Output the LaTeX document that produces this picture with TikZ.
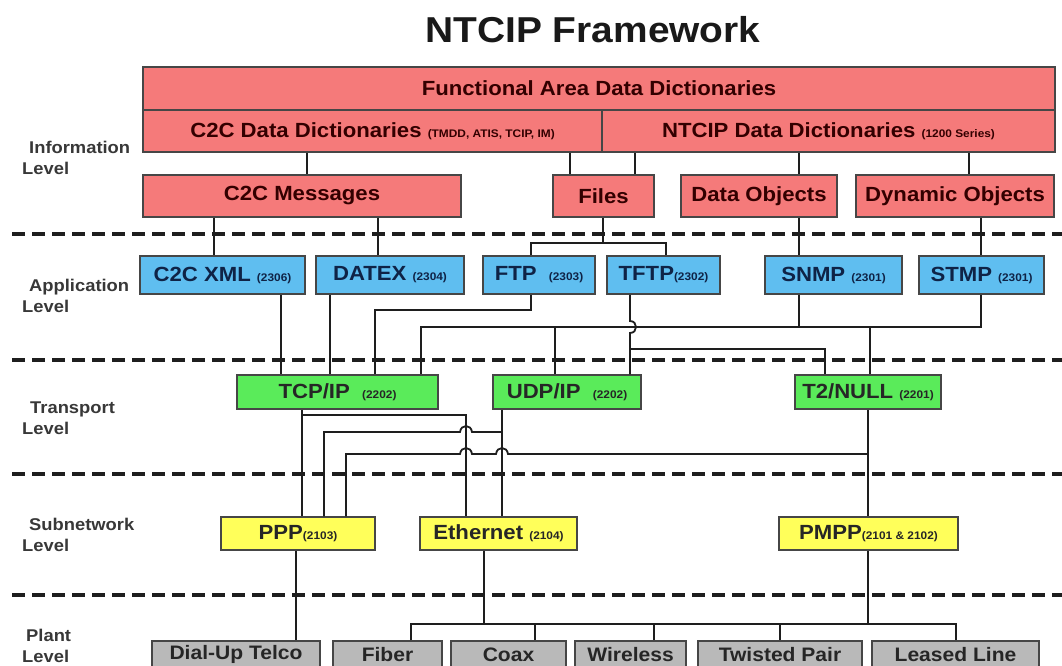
\documentclass[tikz,border=0pt]{standalone}
\usepackage{fontspec}
\setmainfont{Liberation Sans}[FakeStretch=1.08]
\definecolor{infofill}{RGB}{245,122,122}
\definecolor{appfill}{RGB}{95,190,240}
\definecolor{tranfill}{RGB}{90,235,90}
\definecolor{subfill}{RGB}{255,255,90}
\definecolor{plantfill}{RGB}{185,185,185}
\definecolor{bordercol}{RGB}{70,70,70}
\definecolor{linecol}{RGB}{30,30,30}
\definecolor{apptext}{RGB}{15,35,70}
\newcommand\smallnum[1]{{\fontsize{11}{12}\selectfont #1}}
\newcommand\mkbox[7]{\node[#2, minimum width={#4-#3}, minimum height={#6-#5}] (#1) at ({(#3+#4)/2},{(#5+#6)/2}) {#7};}
\begin{document}
\begin{tikzpicture}[x=1pt,y=-1pt,
  basebox/.style={draw=bordercol, line width=1.5pt, inner sep=0pt, text=black!85,
    font=\fontsize{20.5}{24}\selectfont\bfseries},
  infobox/.style={basebox, fill=infofill, text=black!80!red},
  appbox/.style={basebox, fill=appfill, text=apptext},
  tranbox/.style={basebox, fill=tranfill},
  subbox/.style={basebox, fill=subfill},
  plantbox/.style={basebox, fill=plantfill, font=\fontsize{19.5}{23}\selectfont\bfseries},
  conn/.style={draw=linecol, line width=1.8pt},
  levelsep/.style={draw=linecol, line width=3.8pt, dash pattern=on 13pt off 7pt},
  levellabel/.style={align=left, anchor=west, inner sep=0pt, text=black!78,
    font=\fontsize{17}{21}\selectfont\bfseries}]
\clip (0,0) rectangle (1062,665);
\fill[white] (0,0) rectangle (1062,665);

% title
\node[font=\fontsize{36}{40}\selectfont\bfseries, text=black!90] (title) at (593,30) {NTCIP Framework};

% level separators
\foreach \yy in {234,360,474,595} {\draw[levelsep] (12,\yy) -- (1068,\yy);}

% level labels
\node[levellabel] (lInfo) at (22,158) {\hspace*{7pt}Information\\Level};
\node[levellabel] (lApp) at (22,296) {\hspace*{7pt}Application\\Level};
\node[levellabel] (lTran) at (22,418) {\hspace*{8pt}Transport\\Level};
\node[levellabel] (lSub) at (22,535) {\hspace*{7pt}Subnetwork\\Level};
\node[levellabel] (lPlant) at (22,646) {\hspace*{4pt}Plant\\Level};

% information level
\mkbox{fadd}{infobox}{143}{1055}{67}{110}{Functional Area Data Dictionaries}
\mkbox{c2cdd}{infobox}{143}{602}{110}{152}{C2C Data Dictionaries \smallnum{(TMDD, ATIS, TCIP, IM)}}
\mkbox{ntcipdd}{infobox}{602}{1055}{110}{152}{NTCIP Data Dictionaries \smallnum{(1200 Series)}}
\mkbox{c2cmsg}{infobox}{143}{461}{175}{217}{C2C Messages}
\mkbox{files}{infobox}{553}{654}{175}{217}{Files}
\mkbox{dataobj}{infobox}{681}{837}{175}{217}{Data Objects}
\mkbox{dynobj}{infobox}{856}{1054}{175}{217}{Dynamic Objects}

% application level
\mkbox{c2cxml}{appbox}{140}{305}{256}{294}{C2C XML \smallnum{(2306)}}
\mkbox{datex}{appbox}{316}{464}{256}{294}{DATEX \smallnum{(2304)}}
\mkbox{ftp}{appbox}{483}{595}{256}{294}{FTP \ \smallnum{(2303)}}
\mkbox{tftp}{appbox}{607}{720}{256}{294}{TFTP\smallnum{(2302)}}
\mkbox{snmp}{appbox}{765}{902}{256}{294}{SNMP \smallnum{(2301)}}
\mkbox{stmp}{appbox}{919}{1044}{256}{294}{STMP \smallnum{(2301)}}

% transport level
\mkbox{tcp}{tranbox}{237}{438}{375}{409}{TCP/IP \ \smallnum{(2202)}}
\mkbox{udp}{tranbox}{493}{641}{375}{409}{UDP/IP \ \smallnum{(2202)}}
\mkbox{t2}{tranbox}{795}{941}{375}{409}{T2/NULL \smallnum{(2201)}}

% subnetwork level
\mkbox{ppp}{subbox}{221}{375}{517}{550}{PPP\smallnum{(2103)}}
\mkbox{eth}{subbox}{420}{577}{517}{550}{Ethernet \smallnum{(2104)}}
\mkbox{pmpp}{subbox}{779}{958}{517}{550}{PMPP\smallnum{(2101 \& 2102)}}

% plant level (boxes run past the lower edge)
\mkbox{dialup}{plantbox}{152}{320}{641}{668}{Dial-Up Telco}
\mkbox{fiber}{plantbox}{333}{442}{641}{668}{Fiber}
\mkbox{coax}{plantbox}{451}{566}{641}{668}{Coax}
\mkbox{wireless}{plantbox}{575}{686}{641}{668}{Wireless}
\mkbox{twisted}{plantbox}{698}{862}{641}{668}{Twisted Pair}
\mkbox{leased}{plantbox}{872}{1039}{641}{668}{Leased Line}

% information connectors
\draw[conn] (c2cdd.south -| 307,0) -- (c2cmsg.north -| 307,0);
\draw[conn] (c2cdd.south -| 570,0) -- (files.north -| 570,0);
\draw[conn] (ntcipdd.south -| 635,0) -- (files.north -| 635,0);
\draw[conn] (ntcipdd.south -| 799,0) -- (dataobj.north -| 799,0);
\draw[conn] (ntcipdd.south -| 969,0) -- (dynobj.north -| 969,0);

% information -> application
\draw[conn] (c2cmsg.south -| 214,0) -- (c2cxml.north -| 214,0);
\draw[conn] (c2cmsg.south -| 378,0) -- (datex.north -| 378,0);
\coordinate (fj) at (603,243);
\draw[conn] (files.south -| fj) -- (fj);
\draw[conn] (ftp.north -| 531,0) |- (fj) -| (tftp.north -| 666,0);
\draw[conn] (dataobj.south -| 799,0) -- (snmp.north -| 799,0);
\draw[conn] (dynobj.south -| 981,0) -- (stmp.north -| 981,0);

% application -> transport
\draw[conn] (c2cxml.south -| 281,0) -- (tcp.north -| 281,0);
\draw[conn] (datex.south -| 330,0) -- (tcp.north -| 330,0);
\draw[conn] (ftp.south -| 531,0) |- (375,310) -- (tcp.north -| 375,0);
\coordinate (busA) at (421,327);
\draw[conn] (stmp.south -| 981,0) |- (busA) -- (tcp.north -| busA);
\draw[conn] (snmp.south -| 799,0) -- (799,327);
\draw[conn] (555,327) -- (udp.north -| 555,0);
\draw[conn] (870,327) -- (t2.north -| 870,0);
\draw[conn] (tftp.south -| 630,0) -- (630,321) .. controls (638,321) and (638,333) .. (630,333) -- (udp.north -| 630,0);
\draw[conn] (630,349) -| (t2.north -| 825,0);

% transport -> subnetwork
\draw[conn] (tcp.south -| 302,0) -- (ppp.north -| 302,0);
\draw[conn] (302,415) -| (eth.north -| 466,0);
\draw[conn] (udp.south -| 502,0) -- (eth.north -| 502,0);
\draw[conn] (502,432) -- (472,432) .. controls (471,424) and (461,424) .. (460,432) -- (324,432) -- (ppp.north -| 324,0);
\draw[conn] (t2.south -| 868,0) -- (pmpp.north -| 868,0);
\draw[conn] (868,454) -- (508,454) .. controls (507,446) and (497,446) .. (496,454) -- (472,454) .. controls (471,446) and (461,446) .. (460,454) -- (346,454) -- (ppp.north -| 346,0);

% subnetwork -> plant
\draw[conn] (ppp.south -| 296,0) -- (dialup.north -| 296,0);
\draw[conn] (eth.south -| 484,0) -- (484,624);
\draw[conn] (pmpp.south -| 868,0) -- (868,624);
\draw[conn] (fiber.north -| 411,0) |- (956,624) -- (leased.north -| 956,0);
\draw[conn] (535,624) -- (coax.north -| 535,0);
\draw[conn] (654,624) -- (wireless.north -| 654,0);
\draw[conn] (780,624) -- (twisted.north -| 780,0);
\end{tikzpicture}
\end{document}
